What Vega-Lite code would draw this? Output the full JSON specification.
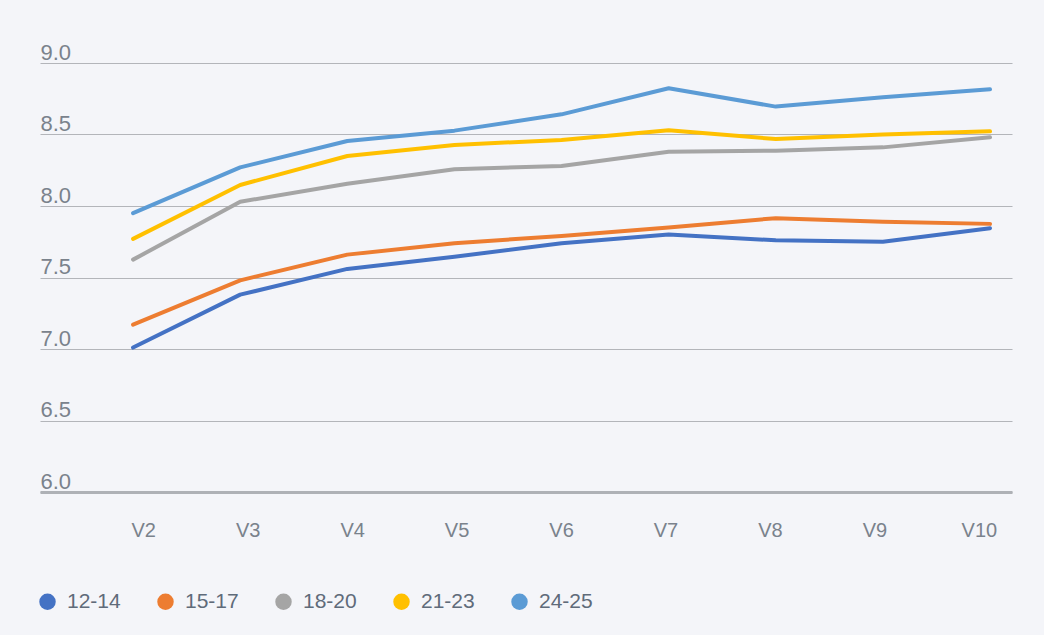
{
  "$schema": "https://vega.github.io/schema/vega-lite/v6.json",
  "autosize": "none",
  "width": 972,
  "height": 429,
  "padding": {"left": 40, "top": 63, "right": 32, "bottom": 143},
  "background": "#f4f5f9",
  "config": {
    "view": {"stroke": null},
    "font": "Liberation Sans"
  },
  "data": {
    "values": [
      {"v": "V2", "g": "12-14", "s": 7.01},
      {"v": "V3", "g": "12-14", "s": 7.38},
      {"v": "V4", "g": "12-14", "s": 7.56},
      {"v": "V5", "g": "12-14", "s": 7.645},
      {"v": "V6", "g": "12-14", "s": 7.74},
      {"v": "V7", "g": "12-14", "s": 7.80},
      {"v": "V8", "g": "12-14", "s": 7.76},
      {"v": "V9", "g": "12-14", "s": 7.75},
      {"v": "V10", "g": "12-14", "s": 7.845},
      {"v": "V2", "g": "15-17", "s": 7.17},
      {"v": "V3", "g": "15-17", "s": 7.48},
      {"v": "V4", "g": "15-17", "s": 7.66},
      {"v": "V5", "g": "15-17", "s": 7.74},
      {"v": "V6", "g": "15-17", "s": 7.79},
      {"v": "V7", "g": "15-17", "s": 7.85},
      {"v": "V8", "g": "15-17", "s": 7.915},
      {"v": "V9", "g": "15-17", "s": 7.89},
      {"v": "V10", "g": "15-17", "s": 7.875},
      {"v": "V2", "g": "18-20", "s": 7.625},
      {"v": "V3", "g": "18-20", "s": 8.03},
      {"v": "V4", "g": "18-20", "s": 8.155},
      {"v": "V5", "g": "18-20", "s": 8.257},
      {"v": "V6", "g": "18-20", "s": 8.28},
      {"v": "V7", "g": "18-20", "s": 8.38},
      {"v": "V8", "g": "18-20", "s": 8.387},
      {"v": "V9", "g": "18-20", "s": 8.41},
      {"v": "V10", "g": "18-20", "s": 8.48},
      {"v": "V2", "g": "21-23", "s": 7.77},
      {"v": "V3", "g": "21-23", "s": 8.147},
      {"v": "V4", "g": "21-23", "s": 8.35},
      {"v": "V5", "g": "21-23", "s": 8.427},
      {"v": "V6", "g": "21-23", "s": 8.462},
      {"v": "V7", "g": "21-23", "s": 8.53},
      {"v": "V8", "g": "21-23", "s": 8.468},
      {"v": "V9", "g": "21-23", "s": 8.50},
      {"v": "V10", "g": "21-23", "s": 8.522},
      {"v": "V2", "g": "24-25", "s": 7.95},
      {"v": "V3", "g": "24-25", "s": 8.27},
      {"v": "V4", "g": "24-25", "s": 8.455},
      {"v": "V5", "g": "24-25", "s": 8.527},
      {"v": "V6", "g": "24-25", "s": 8.641},
      {"v": "V7", "g": "24-25", "s": 8.823},
      {"v": "V8", "g": "24-25", "s": 8.695},
      {"v": "V9", "g": "24-25", "s": 8.76},
      {"v": "V10", "g": "24-25", "s": 8.816}
    ]
  },
  "layer": [
    {
      "mark": {"type": "line", "strokeWidth": 4, "strokeCap": "round", "strokeJoin": "round"},
      "encoding": {
        "x": {
          "field": "v", "type": "ordinal",
          "scale": {"type": "point", "domain": ["V2","V3","V4","V5","V6","V7","V8","V9","V10"], "padding": 0.537, "align": 0.809},
          "axis": null
        },
        "y": {
          "field": "s", "type": "quantitative",
          "scale": {"domain": [6, 9], "zero": false, "nice": false},
          "axis": {
            "title": null,
            "values": [6, 6.5, 7, 7.5, 8, 8.5, 9],
            "format": ".1f",
            "domain": false,
            "ticks": false,
            "tickSize": 0,
            "labelPadding": 0,
            "labelAlign": "left",
            "labelBaseline": "alphabetic",
            "labelOffset": -4,
            "labelBound": false,
            "labelFlush": false,
            "labelFont": "Liberation Sans",
            "labelFontSize": 22,
            "labelColor": "#7a828c",
            "grid": true,
            "gridColor": "#b3b5ba",
            "gridWidth": 1
          }
        },
        "color": {
          "field": "g", "type": "nominal",
          "scale": {"domain": ["12-14","15-17","18-20","21-23","24-25"], "range": ["#4472c4","#ed7d31","#a5a5a5","#ffc000","#5b9bd5"]},
          "legend": {
            "title": null,
            "orient": "none",
            "direction": "horizontal",
            "columns": 5,
            "legendX": -3,
            "legendY": 528,
            "symbolType": "circle",
            "symbolSize": 272,
            "symbolStrokeWidth": 0,
            "symbolOpacity": 1,
            "labelFont": "Liberation Sans",
            "labelFontSize": 21,
            "labelColor": "#5f6b7a",
            "labelOffset": 9,
            "columnPadding": 34,
            "padding": 0,
            "encode": {
              "symbols": {
                "update": {
                  "fill": {"scale": "color", "field": "value"},
                  "fillOpacity": {"value": 1},
                  "strokeWidth": {"value": 0}
                }
              }
            }
          }
        }
      }
    },
    {
      "mark": {"type": "point", "opacity": 0},
      "encoding": {
        "x": {
          "field": "v", "type": "ordinal",
          "scale": {"type": "point", "domain": ["V2","V3","V4","V5","V6","V7","V8","V9","V10"], "padding": 0.653, "align": 0.757},
          "axis": {
            "title": null,
            "labelAngle": 0,
            "ticks": false,
            "tickSize": 0,
            "domain": true,
            "domainColor": "#aeb1b6",
            "domainWidth": 3,
            "grid": false,
            "labelPadding": 44,
            "labelBaseline": "alphabetic",
            "labelFont": "Liberation Sans",
            "labelFontSize": 20,
            "labelColor": "#7a828c"
          }
        }
      }
    }
  ],
  "resolve": {"scale": {"x": "independent"}}
}
